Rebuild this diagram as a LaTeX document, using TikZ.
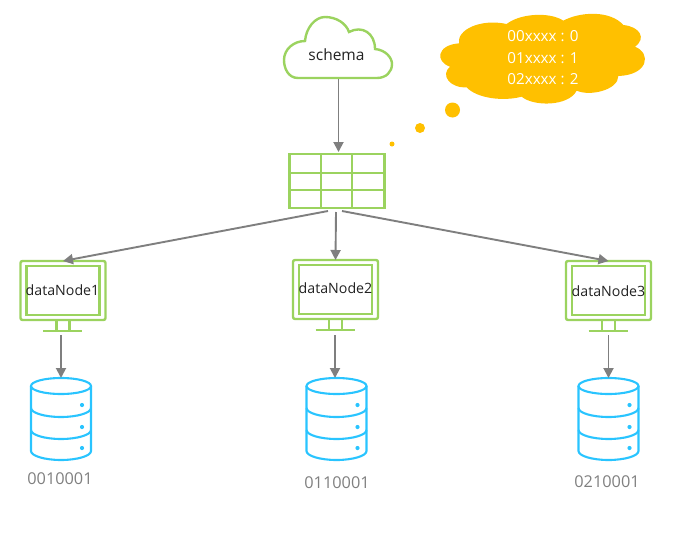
\documentclass[tikz,border=0pt]{standalone}
\usepackage{fontspec}
\setmainfont{Open Sans}
\usetikzlibrary{arrows.meta}
\definecolor{lgreen}{HTML}{9BD35F}
\definecolor{dbblue}{HTML}{29C4FF}
\definecolor{gold}{HTML}{FFC000}
\definecolor{arrowgray}{HTML}{7F7F7F}
\definecolor{labelgray}{HTML}{808080}
\definecolor{txt}{HTML}{222222}
\tikzset{
  greenline/.style={draw=lgreen,line width=2.4pt},
  blueline/.style={draw=dbblue,line width=2.1pt},
  conn/.style={draw=arrowgray,line width=1.9pt,-{Triangle[length=10pt,width=10pt]}},
  screen/.style={greenline,rounded corners=2pt,minimum width=85pt,minimum height=59pt,inner sep=0pt,outer sep=0pt},
  monitorname/.style={font=\fontsize{14.2}{16}\selectfont,text=txt,inner sep=0pt},
  dblabel/.style={font=\fontsize{16.3}{18}\selectfont,text=labelgray,inner sep=0pt},
  thought/.style={font=\fontsize{15.2}{18}\selectfont,text=white,inner sep=0pt},
  golddot/.style={circle,fill=gold,inner sep=0pt,outer sep=0pt},
}
% #1 name, #2 centre x, #3 centre y of the screen
\newcommand{\monitorshape}[3]{%
  \node[screen] (#1) at (#2,#3) {};
  \draw[greenline] ([shift={(6,5)}]#1.north west) rectangle ([shift={(-6,-5)}]#1.south east);
  \draw[greenline] ([xshift=-6.5pt]#1.south) -- ++(0,11) ([xshift=6.5pt]#1.south) -- ++(0,11);
  \draw[greenline] ([shift={(-20,11)}]#1.south) -- ++(39,0);
}
% #1 name, #2 centre x, #3 arrow x relative to the centre
\newcommand{\dbshape}[3]{%
  \begin{scope}[shift={(#2,0)}]
    \coordinate (#1) at (#3,378);
    \coordinate (#1foot) at (#3,335);
    \draw[blueline] (0,386) ellipse [x radius=30,y radius=8];
    \draw[blueline] (-30,386) -- (-30,451) .. controls (-30,456) and (-16,460) .. (0,460) .. controls (16,460) and (30,456) .. (30,451) -- (30,386);
    \draw[blueline] (-30,408) .. controls (-30,413) and (-16,417) .. (0,417) .. controls (16,417) and (30,413) .. (30,408);
    \draw[blueline] (-30,430) .. controls (-30,435) and (-16,439) .. (0,439) .. controls (16,439) and (30,435) .. (30,430);
    \fill[dbblue] (21,405) circle (2.1) (21,427) circle (2.1) (21,448) circle (2.1);
  \end{scope}
}
\begin{document}
\begin{tikzpicture}[x=1pt,y=-1pt]
\useasboundingbox (0,0) rectangle (696,536);
% schema cloud
\draw[greenline,fill=white] (298,78)
  .. controls (288,78) and (284,68) .. (284,60)
  .. controls (284,49) and (294,41) .. (305,41)
  .. controls (306,28) and (315,17) .. (325,17)
  .. controls (336,17) and (346,23) .. (349,32)
  .. controls (362,25) and (375,33) .. (375,49)
  .. controls (386,50) and (392,58) .. (392,64)
  .. controls (392,72) and (386,78) .. (377,78) -- cycle;
\node[font=\fontsize{15.5}{18}\selectfont,text=txt,inner sep=0pt] (schema) at (336.5,55) {schema};
\coordinate (schemafoot) at (338.5,79);
% table
\node[greenline,minimum width=95pt,minimum height=54pt,inner sep=0pt,outer sep=0pt] (tbl) at (337,181) {};
\draw[greenline] (321,154) -- (321,208) (352,154) -- (352,208) (289,173) -- (385,173) (289,190) -- (385,190);
\coordinate (tblL) at (328,211);
\coordinate (tblM) at (336,212);
\coordinate (tblR) at (342,211);
\coordinate (tblT) at (338.5,152);
\draw[conn] (schemafoot) -- (tblT);
% thought cloud
\begin{scope}[shift={(270,0)},scale=1/3]
\fill[gold] (567,130)
  .. controls (560,90) and (630,55) .. (710,72)
  .. controls (750,40) and (840,35) .. (880,62)
  .. controls (930,35) and (1020,30) .. (1060,75)
  .. controls (1110,80) and (1130,115) .. (1095,140)
  .. controls (1145,160) and (1135,225) .. (1045,228)
  .. controls (1045,270) and (960,290) .. (920,272)
  .. controls (895,320) and (790,320) .. (755,290)
  .. controls (700,305) and (620,295) .. (590,262)
  .. controls (540,265) and (510,225) .. (540,200)
  .. controls (495,185) and (500,135) .. (567,130) -- cycle;
\end{scope}
\node[thought] (t1) at (543,36) {00xxxx : 0};
\node[thought] (t2) at (543,58) {01xxxx : 1};
\node[thought] (t3) at (543,79) {02xxxx : 2};
\node[golddot,minimum size=15pt] (d1) at (452.5,110) {};
\node[golddot,minimum size=10pt] (d2) at (420,128) {};
\node[golddot,minimum size=5pt] (d3) at (392,144) {};
% monitors
\monitorshape{m1}{63}{290.5}
\monitorshape{m2}{335.5}{289.5}
\monitorshape{m3}{608.5}{290.5}
\node[monitorname] (m1t) at (62.5,290) {dataNode1};
\node[monitorname] (m2t) at (335.5,288) {dataNode2};
\node[monitorname] (m3t) at (608.5,291) {dataNode3};
\draw[conn] (tblL) -- (m1.north);
\draw[conn] (tblM) -- (m2.north);
\draw[conn] (tblR) -- (m3.north);
% databases
\dbshape{db1}{61}{0}
\dbshape{db2}{336.5}{-1.5}
\dbshape{db3}{608.5}{0}
\draw[conn] (db1foot) -- (db1);
\draw[conn] (db2foot) -- (db2);
\draw[conn] (db3foot) -- (db3);
\node[dblabel] (l1) at (60,478.5) {0010001};
\node[dblabel] (l2) at (337,482.5) {0110001};
\node[dblabel] (l3) at (607,481.5) {0210001};
\end{tikzpicture}
\end{document}
